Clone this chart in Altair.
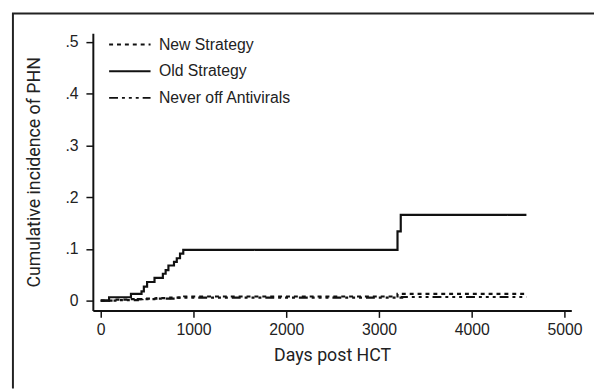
import altair as alt
import pandas as pd

series_names = ["New Strategy", "Old Strategy", "Never off Antivirals"]

old_days = [0, 90, 326, 440, 465, 500, 580, 670, 700, 730, 790, 820, 855, 890, 3200, 3235, 4590]
old_vals = [0, 0.0065, 0.013, 0.018, 0.027, 0.036, 0.044, 0.052, 0.059, 0.068, 0.075, 0.082, 0.091, 0.098, 0.134, 0.166, 0.166]

new_days = [0, 150, 300, 450, 600, 750, 900, 3200, 4590]
new_vals = [0, 0.002, 0.003, 0.004, 0.005, 0.006, 0.008, 0.013, 0.013]

never_days = [0, 200, 400, 600, 800, 3250, 4590]
never_vals = [0, 0.001, 0.003, 0.004, 0.006, 0.007, 0.007]

x_ticks = [0, 1000, 2000, 3000, 4000, 5000]
y_ticks = [0, 0.1, 0.2, 0.3, 0.4, 0.5]

rows = []
for name, d, v in [("New Strategy", new_days, new_vals),
                   ("Old Strategy", old_days, old_vals),
                   ("Never off Antivirals", never_days, never_vals)]:
    for a, b in zip(d, v):
        rows.append({"series": name, "days": a, "ci": b})
df = pd.DataFrame(rows)

FONT = "Liberation Sans"
NARROW = "Roboto"

lines = alt.Chart(df).mark_line(interpolate="step-after", color="#111", strokeWidth=2.2).encode(
    x=alt.X("days:Q", scale=alt.Scale(domain=[-85, 5074], nice=False, zero=False),
            axis=alt.Axis(values=x_ticks, title="Days post HCT", format="d",
                          titleFont=NARROW, titleFontSize=18, titleFontWeight="normal",
                          titleBaseline="alphabetic", titleY=51)),
    y=alt.Y("ci:Q", scale=alt.Scale(domain=[-0.019, 0.517], nice=False, zero=False),
            axis=alt.Axis(values=y_ticks, labelPadding=8,
                          labelExpr="datum.value == 0 ? '0' : replace(format(datum.value, '.1f'), '0.', '.')",
                          title="Cumulative incidence of PHN",
                          titleFont=NARROW, titleFontSize=18, titleFontWeight="normal",
                          titleBaseline="middle", titleX=-59)),
    strokeDash=alt.StrokeDash("series:N",
        scale=alt.Scale(domain=series_names, range=[[4, 4], [1, 0], [9, 4, 3, 4, 3, 4, 3, 4]]),
        legend=alt.Legend(title=None, orient="none", legendX=26, legendY=0,
                          symbolType="M-2,0H2", symbolSize=441, symbolStrokeWidth=2,
                          symbolStrokeColor="#111",
                          labelFont=FONT, labelFontSize=16, labelColor="#222",
                          labelOffset=18, rowPadding=7)),
    detail="series:N",
)

frame_df = pd.DataFrame({"k": [0]})
frame_left = alt.Chart(frame_df).mark_rule(color="#222", strokeWidth=2).encode(
    x=alt.value(-81), y=alt.value(-20), y2=alt.value(360))
frame_top = alt.Chart(frame_df).mark_rule(color="#222", strokeWidth=2).encode(
    x=alt.value(-82), x2=alt.value(520), y=alt.value(-20))

chart = alt.layer(lines, frame_left, frame_top).properties(
    width=485, height=281,
    autosize=alt.AutoSizeParams(type="none"),
    padding={"left": 86, "top": 23, "right": 23, "bottom": 77},
).configure_view(stroke=None).configure_axis(
    grid=False, domainColor="#111", domainWidth=2, tickColor="#111", tickWidth=1.5,
    tickSize=7, labelFont=FONT, labelFontSize=16, labelColor="#222", titleColor="#222",
    labelPadding=4,
)

chart.save("out.html", embed_options={"renderer": "svg", "actions": False})
